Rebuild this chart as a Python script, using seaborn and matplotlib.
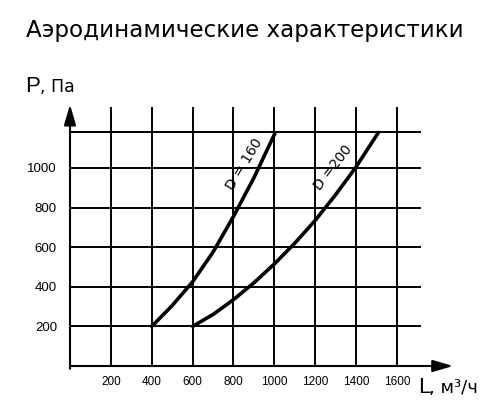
import matplotlib
matplotlib.use("Agg")
import matplotlib.pyplot as plt
import seaborn as sns
import pandas as pd

# ---- data ----
title = "Аэродинамические характеристики"
x_ticks = [200, 400, 600, 800, 1000, 1200, 1400, 1600]
y_ticks = [200, 400, 600, 800, 1000]
y_grid = [200, 400, 600, 800, 1000, 1180]

d160_x = [400, 500, 600, 700, 800, 900, 1003]
d160_y = [200, 305, 425, 575, 755, 950, 1175]
d200_x = [600, 700, 800, 900, 1000, 1100, 1200, 1300, 1400, 1510]
d200_y = [200, 260, 335, 420, 515, 620, 735, 865, 1005, 1180]
labels = ["D = 160", "D =200"]

sns.set_theme(style="white")
plt.rcParams["font.family"] = ["Liberation Sans", "DejaVu Sans"]
plt.rcParams["text.color"] = "black"
plt.rcParams["xtick.color"] = "black"
plt.rcParams["ytick.color"] = "black"
plt.rcParams["xtick.labelcolor"] = "black"
plt.rcParams["ytick.labelcolor"] = "black"

W, H = 499, 413
fig = plt.figure(figsize=(W / 100, H / 100), dpi=100)
XMAX, YMAX = 1910, 1330
sx, sy = 0.2043, 0.198
ax = fig.add_axes([70 / W, 47 / H, XMAX * sx / W, YMAX * sy / H])
ax.set_xlim(0, XMAX)
ax.set_ylim(0, YMAX)
for s in ax.spines.values():
    s.set_visible(False)

# grid
ax.vlines(x_ticks, 0, 1310, color="black", lw=1.4, zorder=1)
ax.hlines(y_grid, 0, 1720, color="black", lw=1.4, zorder=1)

# axes with arrows
astyle = "-|>,head_length=0.95,head_width=0.28"
ax.annotate("", xy=(1875, 0), xytext=(0, 0),
            arrowprops=dict(arrowstyle=astyle, lw=1.5, color="black",
                            mutation_scale=13, shrinkA=0, shrinkB=0),
            annotation_clip=False)
ax.annotate("", xy=(0, 1320), xytext=(0, -14),
            arrowprops=dict(arrowstyle=astyle, lw=1.5, color="black",
                            mutation_scale=13, shrinkA=0, shrinkB=0),
            annotation_clip=False)

df = pd.concat([
    pd.DataFrame({"L": d160_x, "P": d160_y, "D": labels[0]}),
    pd.DataFrame({"L": d200_x, "P": d200_y, "D": labels[1]}),
])
sns.lineplot(data=df, x="L", y="P", hue="D", palette=["black", "black"],
             lw=2.6, legend=False, ax=ax, zorder=3, sort=False)

ax.text(852, 1020, labels[0], rotation=59, ha="center", va="center",
        rotation_mode="anchor", fontsize=10, color="black",
        family="DejaVu Sans")
ax.text(1290, 1000, labels[1], rotation=52, ha="center", va="center",
        rotation_mode="anchor", fontsize=10, color="black",
        family="DejaVu Sans")

ax.set_xticks(x_ticks)
ax.set_xticklabels([str(v) for v in x_ticks], fontsize=8.5, color="black")
ax.set_yticks(y_ticks)
ax.set_yticklabels([str(v) for v in y_ticks], fontsize=9.5, color="black")
ax.tick_params(axis="x", length=0, pad=7)
ax.tick_params(axis="y", length=0, pad=9.4)
ax.set_xlabel("")
ax.set_ylabel("")

def ft(x, y, s, **kw):
    fig.text(x / W, 1 - y / H, s, color="black", **kw)

ft(245, 37, title, fontsize=16.6, ha="center", va="baseline",
   family="DejaVu Sans")
ft(25, 92, "P", fontsize=16, ha="left", va="baseline")
ft(40, 92, ", Па", fontsize=12.5, ha="left", va="baseline",
   family="DejaVu Sans")
ft(418, 393, "L", fontsize=16, ha="left", va="baseline")
ft(429, 393, ", м³/ч", fontsize=13, ha="left", va="baseline",
   family="DejaVu Sans")

fig.savefig("out.png", dpi=100, facecolor="white")
